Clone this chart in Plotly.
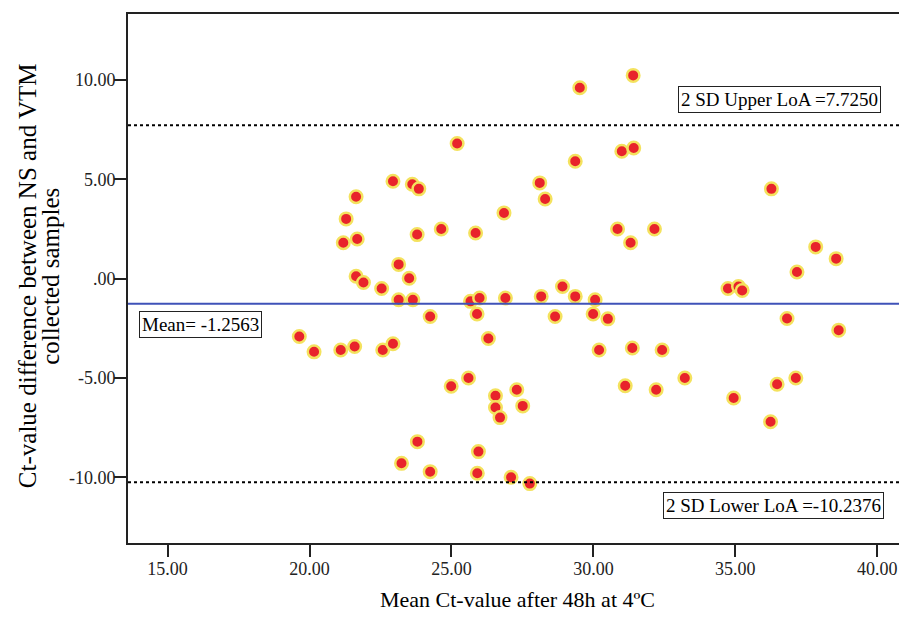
import plotly.graph_objects as go

# Mean Ct-value (x) and Ct-value difference (y)
mean_ct = [21.64, 21.29, 21.68, 21.19, 21.64, 21.90, 22.54, 29.52, 31.40, 25.20,
           22.94, 23.62, 23.85, 29.36, 31.00, 31.42, 28.11, 28.30, 26.85, 23.79,
           24.64, 25.85, 30.85, 31.31, 23.14, 23.51, 23.14, 23.64, 25.67, 25.99,
           26.90, 28.16, 28.91, 29.36, 30.06, 36.27, 32.15, 37.83, 38.55, 37.17,
           34.74, 35.11, 35.24, 19.64, 20.16, 21.10, 21.59, 22.58, 22.94, 24.25,
           25.90, 26.30, 28.65, 29.99, 30.51, 30.20, 31.37, 24.99, 25.60, 26.55,
           27.30, 26.55, 27.51, 26.71, 31.12, 23.80, 25.95, 23.24, 24.25, 25.91,
           27.10, 27.76, 36.82, 38.64, 32.42, 33.22, 32.21, 36.47, 37.13, 34.94,
           36.24]
ct_diff = [4.12, 3.01, 2.00, 1.81, 0.12, -0.19, -0.49, 9.61, 10.23, 6.80,
           4.90, 4.75, 4.52, 5.91, 6.41, 6.58, 4.82, 4.01, 3.31, 2.22,
           2.50, 2.30, 2.50, 1.81, 0.72, 0.02, -1.06, -1.06, -1.14, -0.97,
           -0.97, -0.89, -0.39, -0.89, -1.06, 4.52, 2.50, 1.60, 1.01, 0.34,
           -0.49, -0.39, -0.59, -2.91, -3.68, -3.59, -3.41, -3.59, -3.27, -1.90,
           -1.78, -3.01, -1.90, -1.78, -2.02, -3.59, -3.49, -5.41, -5.00, -5.89,
           -5.59, -6.48, -6.40, -6.99, -5.39, -8.20, -8.70, -9.29, -9.71, -9.79,
           -9.99, -10.31, -2.00, -2.59, -3.59, -5.00, -5.59, -5.31, -5.00, -6.00,
           -7.20]

mean_diff = -1.2563
upper_loa = 7.7250
lower_loa = -10.2376

x_ticks = [15, 20, 25, 30, 35, 40]
x_tick_labels = ["15.00", "20.00", "25.00", "30.00", "35.00", "40.00"]
y_ticks = [10, 5, 0, -5, -10]
y_tick_labels = ["10.00", "5.00", ".00", "-5.00", "-10.00"]

x_title = "Mean Ct-value after 48h at 4ºC"
y_title_lines = ["Ct-value difference between NS and VTM", "collected samples"]

FONT = "Liberation Serif, Times New Roman, serif"

fig = go.Figure()
fig.add_trace(go.Scatter(
    x=mean_ct, y=ct_diff, mode="markers",
    marker=dict(size=12.5, color="#e8232b", line=dict(color="#f4e25e", width=2.5)),
    showlegend=False, hoverinfo="x+y",
))

fig.add_hline(y=upper_loa, line=dict(color="black", width=2, dash="dot"))
fig.add_hline(y=lower_loa, line=dict(color="black", width=2, dash="dot"))
fig.add_hline(y=mean_diff, line=dict(color="#3f52b8", width=2))

box = dict(showarrow=False, bordercolor="#222", borderwidth=1, borderpad=2,
           bgcolor="white", font=dict(family=FONT, size=19, color="black"))
fig.add_annotation(x=36.57, y=9.04, text=f"2 SD Upper LoA ={upper_loa:.4f}", **box)
fig.add_annotation(x=16.17, y=-2.32, text=f"Mean= {mean_diff:.4f}", **box)
fig.add_annotation(x=36.33, y=-11.40, text=f"2 SD Lower LoA ={lower_loa:.4f}", **box)

# two-line y-axis title
for txt, xp in zip(y_title_lines, [-0.128, -0.099]):
    fig.add_annotation(text=txt, xref="paper", yref="paper", x=xp, y=0.505,
                       textangle=-90, showarrow=False, xanchor="center", yanchor="middle",
                       font=dict(family=FONT, size=25, color="black"))

fig.update_layout(
    width=899, height=611,
    margin=dict(l=120, r=0, t=6, b=76),
    paper_bgcolor="white", plot_bgcolor="white",
    font=dict(family=FONT, color="black"),
    xaxis=dict(
        range=[13.606, 41.046], tickvals=x_ticks, ticktext=x_tick_labels,
        showgrid=False, zeroline=False, showline=True, mirror=True,
        linecolor="#222", linewidth=2, ticks="outside", ticklen=12, tickwidth=2,
        tickcolor="#222", tickfont=dict(family=FONT, size=18, color="#222"),
        ticklabelstandoff=-4,
        title=dict(text=x_title, font=dict(family=FONT, size=22), standoff=14),
        automargin=False,
    ),
    yaxis=dict(
        range=[-13.299, 13.319], tickvals=y_ticks, ticktext=y_tick_labels,
        showgrid=False, zeroline=False, showline=True, mirror=False,
        linecolor="#222", linewidth=2, ticks="outside", ticklen=12, tickwidth=2,
        tickcolor="#222", tickfont=dict(family=FONT, size=18, color="#222"),
        ticklabelstandoff=-5,
        automargin=False,
    ),
)

fig.write_html("out.html")
